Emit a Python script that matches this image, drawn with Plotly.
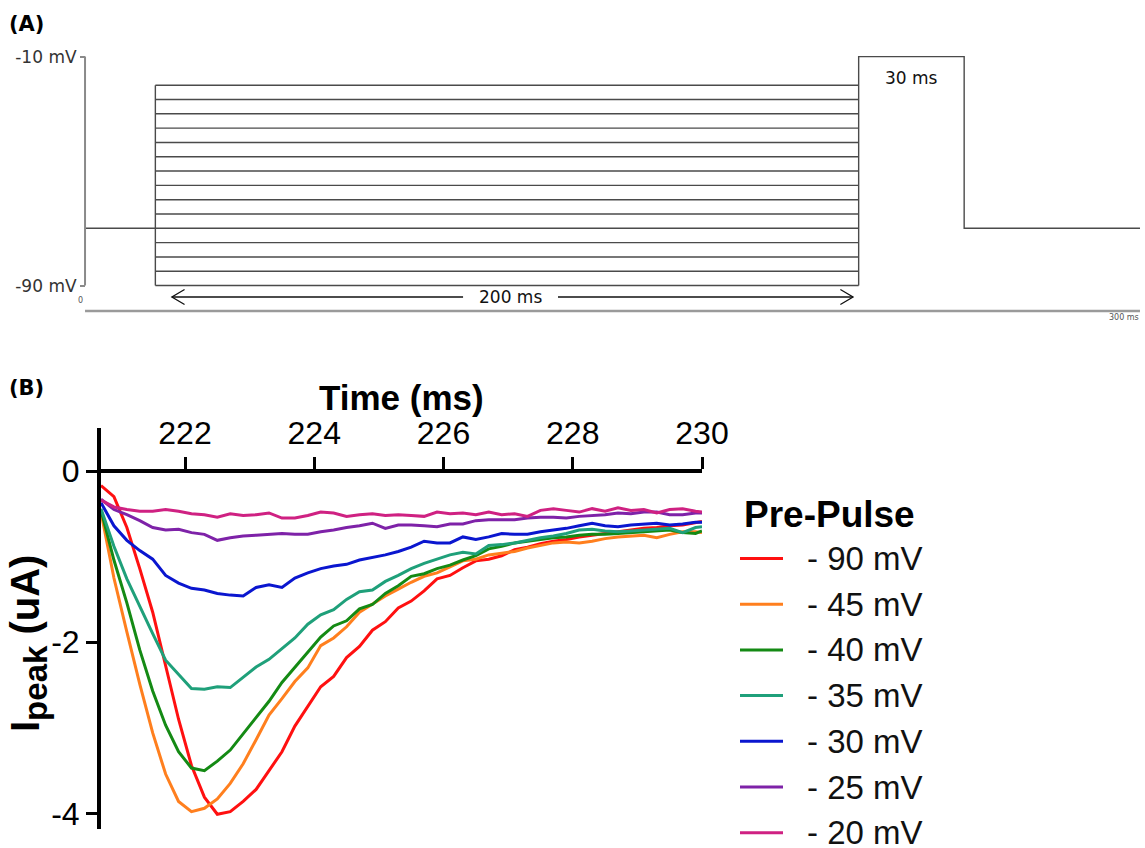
import plotly.graph_objects as go

W, H = 1145, 848

# ---------------- Panel A: voltage-clamp protocol ----------------
prepulse_levels_mV = [-90, -85, -80, -75, -70, -65, -60, -55, -50, -45, -40, -35, -30, -25, -20]
holding_mV = -70
test_mV = -10
protocol_start_ms = 0
prepulse_start_ms = 20
prepulse_end_ms = 220
test_end_ms = 250
protocol_end_ms = 300
protocol_tick_vals = [-90, -10]
protocol_tick_text = ["-90 mV", "-10 mV"]

# ---------------- Panel B: peak current traces ----------------
time_ms = [220.7, 220.9, 221.1, 221.3, 221.5, 221.7, 221.9, 222.1, 222.3, 222.5,
           222.7, 222.9, 223.1, 223.3, 223.5, 223.7, 223.9, 224.1, 224.3, 224.5,
           224.7, 224.9, 225.1, 225.3, 225.5, 225.7, 225.9, 226.1, 226.3, 226.5,
           226.7, 226.9, 227.1, 227.3, 227.5, 227.7, 227.9, 228.1, 228.3, 228.5,
           228.7, 228.9, 229.1, 229.3, 229.5, 229.7, 229.9, 230.0]

i_pre_90 = [-0.17, -0.30, -0.66, -1.14, -1.65, -2.26, -2.90, -3.44, -3.81, -4.01,
            -3.98, -3.86, -3.72, -3.50, -3.28, -2.98, -2.75, -2.52, -2.40, -2.18,
            -2.05, -1.86, -1.76, -1.60, -1.52, -1.40, -1.26, -1.22, -1.13, -1.05,
            -1.03, -0.99, -0.92, -0.89, -0.85, -0.82, -0.80, -0.77, -0.75, -0.73,
            -0.71, -0.69, -0.67, -0.66, -0.64, -0.63, -0.60, -0.59]
i_pre_45 = [-0.48, -1.25, -1.88, -2.49, -3.06, -3.54, -3.86, -3.98, -3.94, -3.83,
            -3.65, -3.42, -3.14, -2.85, -2.66, -2.46, -2.30, -2.04, -1.95, -1.82,
            -1.65, -1.55, -1.46, -1.38, -1.30, -1.23, -1.19, -1.12, -1.05, -1.03,
            -0.98, -0.96, -0.94, -0.90, -0.87, -0.84, -0.83, -0.84, -0.82, -0.79,
            -0.77, -0.76, -0.75, -0.78, -0.74, -0.71, -0.71, -0.72]
i_pre_40 = [-0.46, -1.04, -1.54, -2.09, -2.57, -2.97, -3.28, -3.47, -3.50, -3.39,
            -3.26, -3.07, -2.89, -2.69, -2.47, -2.29, -2.12, -1.94, -1.81, -1.75,
            -1.61, -1.56, -1.43, -1.34, -1.23, -1.20, -1.14, -1.10, -1.04, -0.99,
            -0.91, -0.88, -0.84, -0.82, -0.80, -0.78, -0.77, -0.75, -0.74, -0.74,
            -0.73, -0.72, -0.71, -0.70, -0.69, -0.72, -0.73, -0.70]
i_pre_35 = [-0.44, -0.88, -1.26, -1.59, -1.90, -2.21, -2.38, -2.54, -2.55, -2.52,
            -2.53, -2.41, -2.29, -2.20, -2.08, -1.95, -1.79, -1.68, -1.62, -1.50,
            -1.41, -1.39, -1.29, -1.22, -1.14, -1.08, -1.03, -0.98, -0.95, -0.97,
            -0.87, -0.86, -0.84, -0.81, -0.78, -0.76, -0.73, -0.69, -0.68, -0.70,
            -0.71, -0.70, -0.69, -0.68, -0.67, -0.72, -0.66, -0.65]
i_pre_30 = [-0.37, -0.64, -0.81, -0.93, -1.03, -1.22, -1.31, -1.37, -1.39, -1.43,
            -1.45, -1.46, -1.36, -1.33, -1.36, -1.25, -1.19, -1.14, -1.11, -1.09,
            -1.04, -1.01, -0.98, -0.94, -0.89, -0.82, -0.84, -0.84, -0.77, -0.80,
            -0.77, -0.73, -0.74, -0.74, -0.71, -0.69, -0.67, -0.64, -0.61, -0.64,
            -0.65, -0.63, -0.62, -0.61, -0.63, -0.62, -0.60, -0.60]
i_pre_25 = [-0.33, -0.45, -0.51, -0.58, -0.66, -0.69, -0.68, -0.72, -0.74, -0.81,
            -0.78, -0.76, -0.75, -0.74, -0.73, -0.74, -0.74, -0.71, -0.69, -0.66,
            -0.64, -0.61, -0.67, -0.63, -0.63, -0.64, -0.65, -0.62, -0.62, -0.58,
            -0.57, -0.57, -0.57, -0.55, -0.54, -0.54, -0.55, -0.53, -0.52, -0.51,
            -0.49, -0.50, -0.48, -0.48, -0.51, -0.51, -0.49, -0.49]
i_pre_20 = [-0.34, -0.42, -0.45, -0.47, -0.47, -0.45, -0.47, -0.50, -0.51, -0.54,
            -0.50, -0.52, -0.51, -0.49, -0.55, -0.55, -0.52, -0.48, -0.49, -0.53,
            -0.51, -0.50, -0.52, -0.51, -0.52, -0.53, -0.48, -0.50, -0.49, -0.51,
            -0.48, -0.51, -0.50, -0.53, -0.46, -0.44, -0.46, -0.48, -0.44, -0.47,
            -0.43, -0.46, -0.45, -0.49, -0.45, -0.44, -0.47, -0.48]

prepulse_mV = [-90, -45, -40, -35, -30, -25, -20]
series_values = [i_pre_90, i_pre_45, i_pre_40, i_pre_35, i_pre_30, i_pre_25, i_pre_20]
series_colors = ["#FF1010", "#FF7F1E", "#148A14", "#1FA07A", "#0A16CF", "#7E22A8", "#CF2182"]

time_ticks = [222, 224, 226, 228, 230]
current_ticks = [0, -2, -4]
current_tick_text = ["0", "-2", "-4"]

SANS = "Liberation Sans, Arial, sans-serif"
VERA = "DejaVu Sans, Verdana, sans-serif"
PROTO_LINE = "#4a4a4a"
PROTO_AXIS = "#8a8a8a"


def px_x(px):
    return px / W


def px_y(py):
    return 1 - py / H


fig = go.Figure()

# ---- Panel B traces ----
for mv, vals, col in zip(prepulse_mV, series_values, series_colors):
    fig.add_trace(go.Scatter(x=time_ms, y=vals, mode="lines", name=f"- {abs(mv)} mV",
                             line=dict(color=col, width=3), xaxis="x", yaxis="y",
                             showlegend=False))

# ---- Panel A traces ----
step_x, step_y = [], []
for v in prepulse_levels_mV:
    step_x += [prepulse_start_ms, prepulse_end_ms, None]
    step_y += [v, v, None]
fig.add_trace(go.Scatter(x=step_x, y=step_y, mode="lines",
                         line=dict(color=PROTO_LINE, width=1.4), xaxis="x2", yaxis="y2",
                         showlegend=False))
# holding segment, left edge of the family, test pulse and return to holding
fig.add_trace(go.Scatter(
    x=[protocol_start_ms, prepulse_start_ms, None,
       prepulse_start_ms, prepulse_start_ms, None,
       prepulse_end_ms, prepulse_end_ms, test_end_ms, test_end_ms, protocol_end_ms],
    y=[holding_mV, holding_mV, None,
       min(prepulse_levels_mV), max(prepulse_levels_mV), None,
       min(prepulse_levels_mV), test_mV, test_mV, holding_mV, holding_mV],
    mode="lines", line=dict(color=PROTO_LINE, width=1.4), xaxis="x2", yaxis="y2",
    showlegend=False))

# voltage scale bar and time base
fig.add_trace(go.Scatter(x=[protocol_start_ms, protocol_start_ms],
                         y=[test_mV, min(prepulse_levels_mV)], mode="lines",
                         line=dict(color=PROTO_AXIS, width=2), xaxis="x2", yaxis="y2",
                         showlegend=False))
time_base_mV = -98.9
fig.add_trace(go.Scatter(x=[protocol_start_ms, protocol_end_ms], y=[time_base_mV, time_base_mV],
                         mode="lines", line=dict(color="#9a9a9a", width=2.5),
                         xaxis="x2", yaxis="y2", showlegend=False))

# double-headed duration arrow for the pre-pulse
arrow_mV = -94.0
a0 = prepulse_start_ms + 4.7
a1 = prepulse_end_ms - 1.6
mid = (prepulse_start_ms + prepulse_end_ms) / 2 + 1
gap = 13.5
head_dx, head_dy = 3.6, 2.6
fig.add_trace(go.Scatter(
    x=[a0, mid - gap, None, mid + gap, a1, None,
       a0 + head_dx, a0, a0 + head_dx, None, a1 - head_dx, a1, a1 - head_dx],
    y=[arrow_mV, arrow_mV, None, arrow_mV, arrow_mV, None,
       arrow_mV + head_dy, arrow_mV, arrow_mV - head_dy, None,
       arrow_mV + head_dy, arrow_mV, arrow_mV - head_dy],
    mode="lines", line=dict(color="#111111", width=1.3), xaxis="x2", yaxis="y2",
    showlegend=False))


def note(text, x, y, size, family=SANS, color="#000", xref="paper", yref="paper",
         xanchor="center", **kw):
    return dict(text=text, x=x, y=y, xref=xref, yref=yref, showarrow=False,
                xanchor=xanchor, yanchor="middle",
                font=dict(family=family, size=size, color=color), **kw)


annotations = [
    note("200 ms", mid, arrow_mV, 17, VERA, "#111", "x2", "y2"),
    note("30 ms", (prepulse_end_ms + test_end_ms) / 2, -17.5, 17, VERA, "#111", "x2", "y2"),
    note("0", px_x(80), px_y(300), 8, VERA, "#555"),
    note("300 ms", px_x(1124), px_y(317), 8, VERA, "#555"),
    note("<b>(A)</b>", px_x(26), px_y(24), 21, VERA),
    note("<b>(B)</b>", px_x(26), px_y(388), 21, VERA),
    note("<b>Time (ms)</b>", px_x(401), px_y(397), 35),
    note("<b>I<sub><span style='font-size:33px'>peak</span></sub> (uA)</b>",
         px_x(28), px_y(644), 40, textangle=-90),
    note("<b>Pre-Pulse</b>", px_x(742), px_y(514), 37, xanchor="left"),
]

# hand-built legend
shapes = []
for i, (mv, col) in enumerate(zip(prepulse_mV, series_colors)):
    yy = px_y(558.5 + 45.7 * i)
    shapes.append(dict(type="line", xref="paper", yref="paper", x0=px_x(740), x1=px_x(783),
                       y0=yy, y1=yy, line=dict(color=col, width=3)))
    annotations.append(note(f"- {abs(mv)} mV", px_x(805), yy, 33, SANS, "#111",
                            xanchor="left"))

# axis extents in data units
yB_top_px, yB_bot_px, y0_px, y_per_unit = 428, 829, 471, 85.6
yB_range = [-(yB_bot_px - y0_px) / y_per_unit, (y0_px - yB_top_px) / y_per_unit]

fig.update_layout(
    width=W, height=H, autosize=False,
    margin=dict(l=0, r=0, t=0, b=0, pad=0, autoexpand=False),
    paper_bgcolor="white", plot_bgcolor="rgba(0,0,0,0)",
    showlegend=False,
    xaxis=dict(domain=[px_x(101), px_x(702)], range=[220.7, 230.0], anchor="free",
               position=px_y(y0_px), side="top", showline=True, linecolor="#000", linewidth=4,
               ticks="outside", ticklen=12, tickwidth=3, tickcolor="#000",
               tickvals=time_ticks, tickfont=dict(family=SANS, size=32, color="#000"),
               showgrid=False, zeroline=False, automargin=False),
    yaxis=dict(domain=[px_y(yB_bot_px), px_y(yB_top_px)], range=yB_range, anchor="x",
               showline=True, linecolor="#000", linewidth=4,
               ticks="outside", ticklen=11, tickwidth=3, tickcolor="#000",
               tickvals=current_ticks, ticktext=current_tick_text,
               tickfont=dict(family=SANS, size=32, color="#000"),
               showgrid=False, zeroline=False, automargin=False),
    xaxis2=dict(domain=[px_x(56.9), px_x(1143.5)], range=[-8, 301], visible=False,
                automargin=False),
    yaxis2=dict(domain=[px_y(315.6), px_y(50)], range=[-100.5, -7.7], anchor="free",
                position=px_x(85), showline=False, showgrid=False, zeroline=False,
                ticks="outside", ticklen=5, tickwidth=2, tickcolor=PROTO_AXIS,
                tickvals=protocol_tick_vals, ticktext=protocol_tick_text,
                tickfont=dict(family=VERA, size=17, color="#333"), automargin=False),
    annotations=annotations,
    shapes=shapes,
)

fig.write_html(
    "out.html",
    config={"responsive": False, "displayModeBar": False},
    post_script="document.documentElement.style.overflow='hidden';"
                "document.body.style.margin='0';document.body.style.overflow='hidden';",
)
